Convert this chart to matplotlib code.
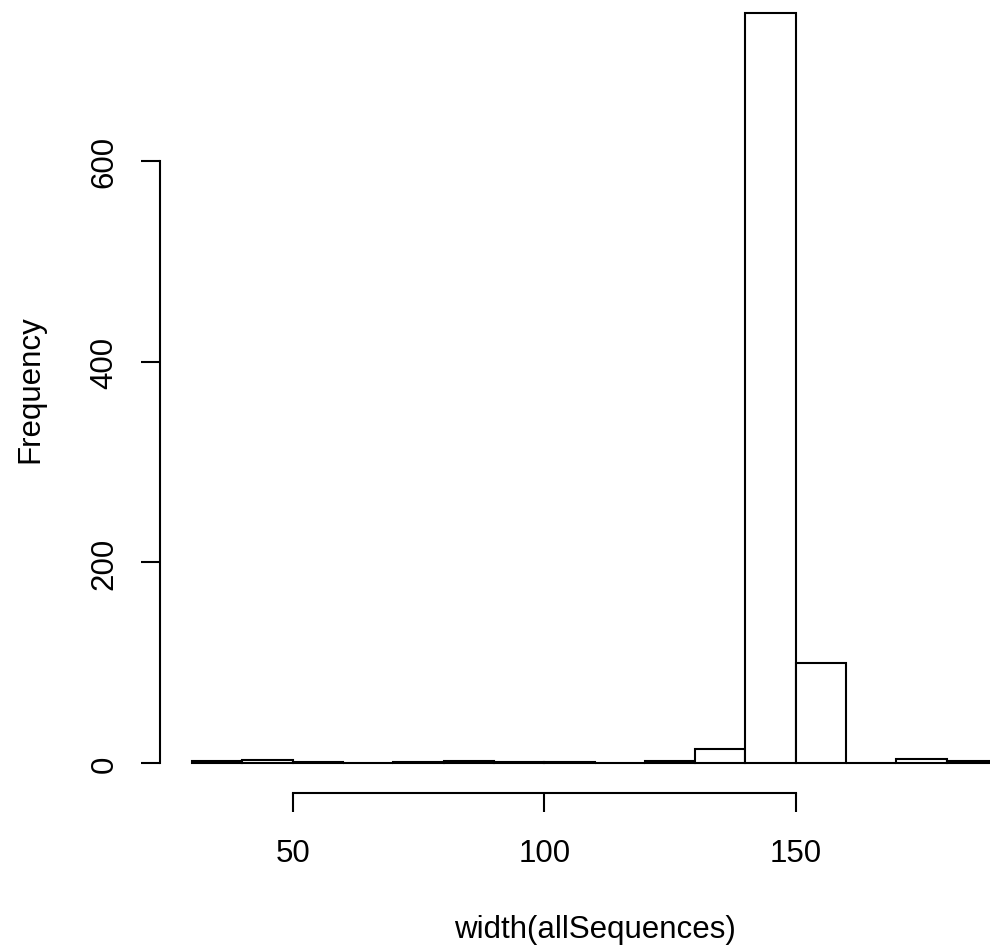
import matplotlib
matplotlib.use('Agg')
import matplotlib.pyplot as plt

# histogram of sequence widths, bins of 10
bin_edges = [30, 40, 50, 60, 70, 80, 90, 100, 110, 120, 130, 140, 150, 160, 170, 180, 190]
counts = [2, 3, 1, 0, 1, 2, 1, 1, 0, 2, 14, 748, 100, 0, 4, 2]
x_ticks = [50, 100, 150]
y_ticks = [0, 200, 400, 600]

plt.rcParams['font.family'] = ['Liberation Sans', 'DejaVu Sans']

fig = plt.figure(figsize=(9.9, 9.53), dpi=100)
# R-style plot region: xlim/ylim extend 4% beyond data, region bleeds past the image edge
ax = fig.add_axes([160 / 990, (953 - 794) / 953, 869 / 990, 810 / 953])

widths = [b - a for a, b in zip(bin_edges[:-1], bin_edges[1:])]
ax.bar(bin_edges[:-1], counts, width=widths, align='edge',
       facecolor='white', edgecolor='black', linewidth=1.5)

xr = bin_edges[-1] - bin_edges[0]
ax.set_xlim(bin_edges[0] - 0.04 * xr, bin_edges[-1] + 0.04 * xr)
ymax = max(counts)
ax.set_ylim(-0.04 * ymax, ymax * 1.04)

for s in ['top', 'right']:
    ax.spines[s].set_visible(False)
ax.spines['left'].set_bounds(y_ticks[0], y_ticks[-1])
ax.spines['bottom'].set_bounds(x_ticks[0], x_ticks[-1])
ax.spines['left'].set_linewidth(1.5)
ax.spines['bottom'].set_linewidth(1.5)

ax.set_xticks(x_ticks)
ax.set_yticks(y_ticks)
ax.set_yticklabels([str(v) for v in y_ticks], rotation=90, va='center')
ax.tick_params(axis='both', length=14, width=1.5, labelsize=22.5)
ax.tick_params(axis='x', pad=18.5)
ax.tick_params(axis='y', pad=15)

ax.set_xlabel('width(allSequences)', fontsize=22.5)
ax.set_ylabel('Frequency', fontsize=22.5)
ax.xaxis.set_label_coords(0.5, -(915 - 794) / 810)
ax.yaxis.set_label_coords((45 - 160) / 869, 0.5)

fig.savefig('out.png', dpi=100)
